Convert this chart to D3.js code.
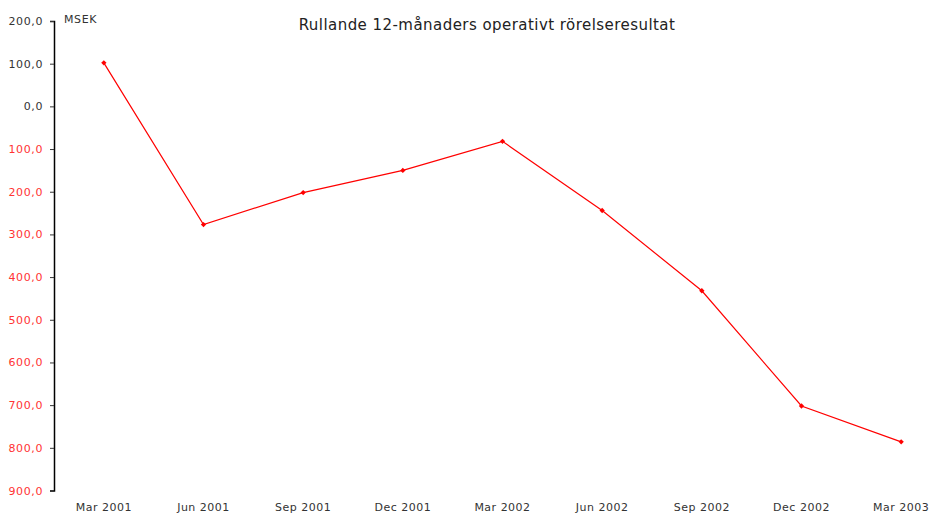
<!DOCTYPE html>
<html>
<head>
<meta charset="utf-8">
<script src="https://cdn.jsdelivr.net/npm/d3@7"></script>
<style>
  body { margin: 0; background: #fff; }
  svg text { font-family: "DejaVu Sans", sans-serif; }
</style>
</head>
<body>
<div id="chart"></div>
<script>
// quarters and rolling 12-month operating result (MSEK)
const quarters = ["Mar 2001", "Jun 2001", "Sep 2001", "Dec 2001", "Mar 2002",
                  "Jun 2002", "Sep 2002", "Dec 2002", "Mar 2003"];
const result = [102, -277, -202, -150, -82, -244, -432, -702, -786];
const yTicks = [200, 100, 0, -100, -200, -300, -400, -500, -600, -700, -800, -900];

const width = 930, height = 514;

const svg = d3.select('#chart')
    .append('svg')
    .attr('width', width)
    .attr('height', height);

const x = d3.scalePoint()
    .domain(quarters)
    .range([54, 951])
    .padding(0.5);

const y = d3.scaleLinear()
    .domain([-900, 200])
    .range([490.5, 21]);

// y axis (negative numbers shown red, without sign)
const fmt = v => Math.abs(v).toFixed(1).replace('.', ',');
const yAxis = svg.append('g')
    .attr('transform', 'translate(54,0)')
    .call(d3.axisLeft(y).tickValues(yTicks).tickSize(4).tickPadding(7).tickFormat(fmt));
yAxis.select('.domain').attr('stroke', '#000').attr('stroke-width', 1.5);
yAxis.selectAll('.tick line').attr('stroke', '#333');
yAxis.selectAll('.tick text')
    .attr('font-size', 11)
    .attr('letter-spacing', 0.6)
    .attr('fill', d => d < 0 ? '#ff3333' : '#333');

// x labels, no axis line
svg.append('g')
    .selectAll('text')
    .data(quarters)
    .join('text')
    .attr('x', d => x(d))
    .attr('y', 511)
    .attr('text-anchor', 'middle')
    .attr('font-size', 11)
    .attr('letter-spacing', 0.5)
    .attr('fill', '#333')
    .text(d => d);

// line
const line = d3.line()
    .x((d, i) => x(quarters[i]))
    .y(d => y(d));

svg.append('path')
    .datum(result)
    .attr('fill', 'none')
    .attr('stroke', '#ff0000')
    .attr('stroke-width', 1.2)
    .attr('d', line);

svg.append('g')
    .selectAll('path')
    .data(result)
    .join('path')
    .attr('transform', (d, i) => `translate(${x(quarters[i])},${y(d)}) rotate(45)`)
    .attr('d', d3.symbol(d3.symbolSquare, 14))
    .attr('fill', '#ff0000');

// title and unit
svg.append('text')
    .attr('x', 487)
    .attr('y', 30)
    .attr('text-anchor', 'middle')
    .attr('font-size', 15)
    .attr('letter-spacing', 0.45)
    .attr('fill', '#222')
    .text('Rullande 12-månaders operativt rörelseresultat');

svg.append('text')
    .attr('x', 64)
    .attr('y', 23)
    .attr('font-size', 11)
    .attr('letter-spacing', 0.6)
    .attr('fill', '#333')
    .text('MSEK');
</script>
</body>
</html>
